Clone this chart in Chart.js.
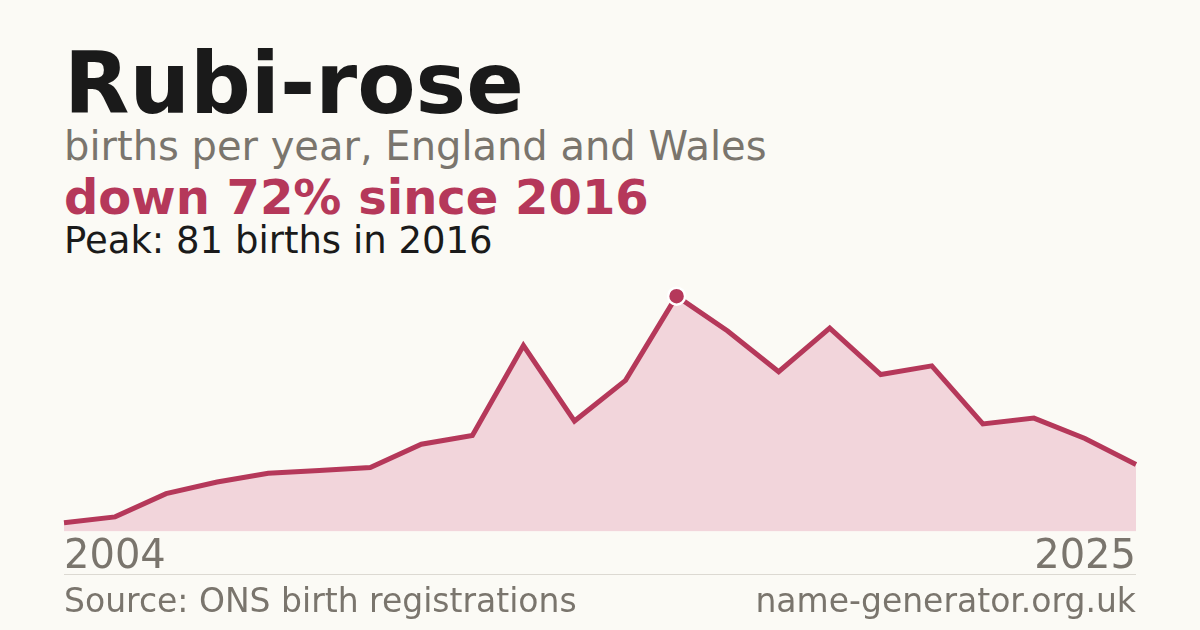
<!DOCTYPE html>
<html>
<head>
<meta charset="utf-8">
<script src="https://cdn.jsdelivr.net/npm/chart.js@4.4.1/dist/chart.umd.min.js"></script>
<style>
  html, body { margin: 0; padding: 0; }
  body {
    width: 1200px; height: 630px; overflow: hidden; position: relative;
    background: #fbfaf5; font-family: "DejaVu Sans", sans-serif;
  }
  .txt { position: absolute; left: 64px; line-height: 1; white-space: nowrap; }
  #title { top: 41px; font-size: 85px; font-weight: bold; color: #1a1a1a; }
  #subtitle { top: 126px; font-size: 40px; color: #7a756d; }
  #change { top: 173px; font-size: 48px; font-weight: bold; color: #b5385a; }
  #peak { top: 222px; font-size: 37px; color: #1a1a1a; }
  #rule { position: absolute; left: 64px; width: 1072px; top: 574px; height: 1px; background: #dcd9d2; }
  .foot { position: absolute; top: 584px; font-size: 33px; line-height: 1; color: #7a756d; white-space: nowrap; }
  #source { left: 64px; }
  #site { right: 64px; }
  #chartWrap { position: absolute; left: 0; top: 0; width: 1200px; height: 630px; }
</style>
</head>
<body>
<div id="title" class="txt">Rubi-rose</div>
<div id="subtitle" class="txt">births per year, England and Wales</div>
<div id="change" class="txt">down 72% since 2016</div>
<div id="peak" class="txt">Peak: 81 births in 2016</div>
<div id="chartWrap"><canvas id="namesChart" width="1200" height="630"></canvas></div>
<div id="rule"></div>
<div id="source" class="foot">Source: ONS birth registrations</div>
<div id="site" class="foot">name-generator.org.uk</div>
<script>
// ==========================
// DATA
// ==========================
const years = ["2004", "2005", "2006", "2007", "2008", "2009", "2010", "2011", "2012", "2013", "2014",
  "2015", "2016", "2017", "2018", "2019", "2020", "2021", "2022", "2023", "2024", "2025"];
const births = [3, 5, 13, 17, 20, 21, 22, 30, 33, 64, 38, 52, 81, 69, 55, 70, 54, 57, 37, 39, 32, 23];
const tickYears = ["2004", "2025"];

const peakIndex = births.indexOf(Math.max(...births));
const lineColor = "#b5385a";

// ==========================
// AREA CHART
// ==========================
const ctx = document.getElementById("namesChart").getContext("2d");

new Chart(ctx, {
  type: "line",
  data: {
    labels: years,
    datasets: [{
      data: births,
      borderColor: lineColor,
      borderWidth: 5,
      backgroundColor: "#f2d5db",
      fill: "origin",
      tension: 0,
      clip: false,
      pointRadius: c => c.dataIndex === peakIndex ? 8.5 : 0,
      pointHoverRadius: 0,
      pointBackgroundColor: lineColor,
      pointBorderColor: "#ffffff",
      pointBorderWidth: 2.5
    }]
  },
  options: {
    responsive: false,
    animation: false,
    events: [],
    layout: { padding: { left: 64, right: 64, top: 270, bottom: 46.6 } },
    plugins: { legend: { display: false }, tooltip: { enabled: false } },
    scales: {
      x: {
        offset: false,
        grid: { display: false, drawTicks: false },
        border: { display: false },
        ticks: {
          autoSkip: false,
          maxRotation: 0,
          align: "inner",
          padding: 2,
          color: "#7a756d",
          font: { family: "DejaVu Sans", size: 40 },
          callback: function (value) {
            const label = this.getLabelForValue(value);
            return tickYears.includes(label) ? label : "";
          }
        }
      },
      y: {
        display: false,
        min: 0,
        max: 90
      }
    }
  }
});
</script>
</body>
</html>
